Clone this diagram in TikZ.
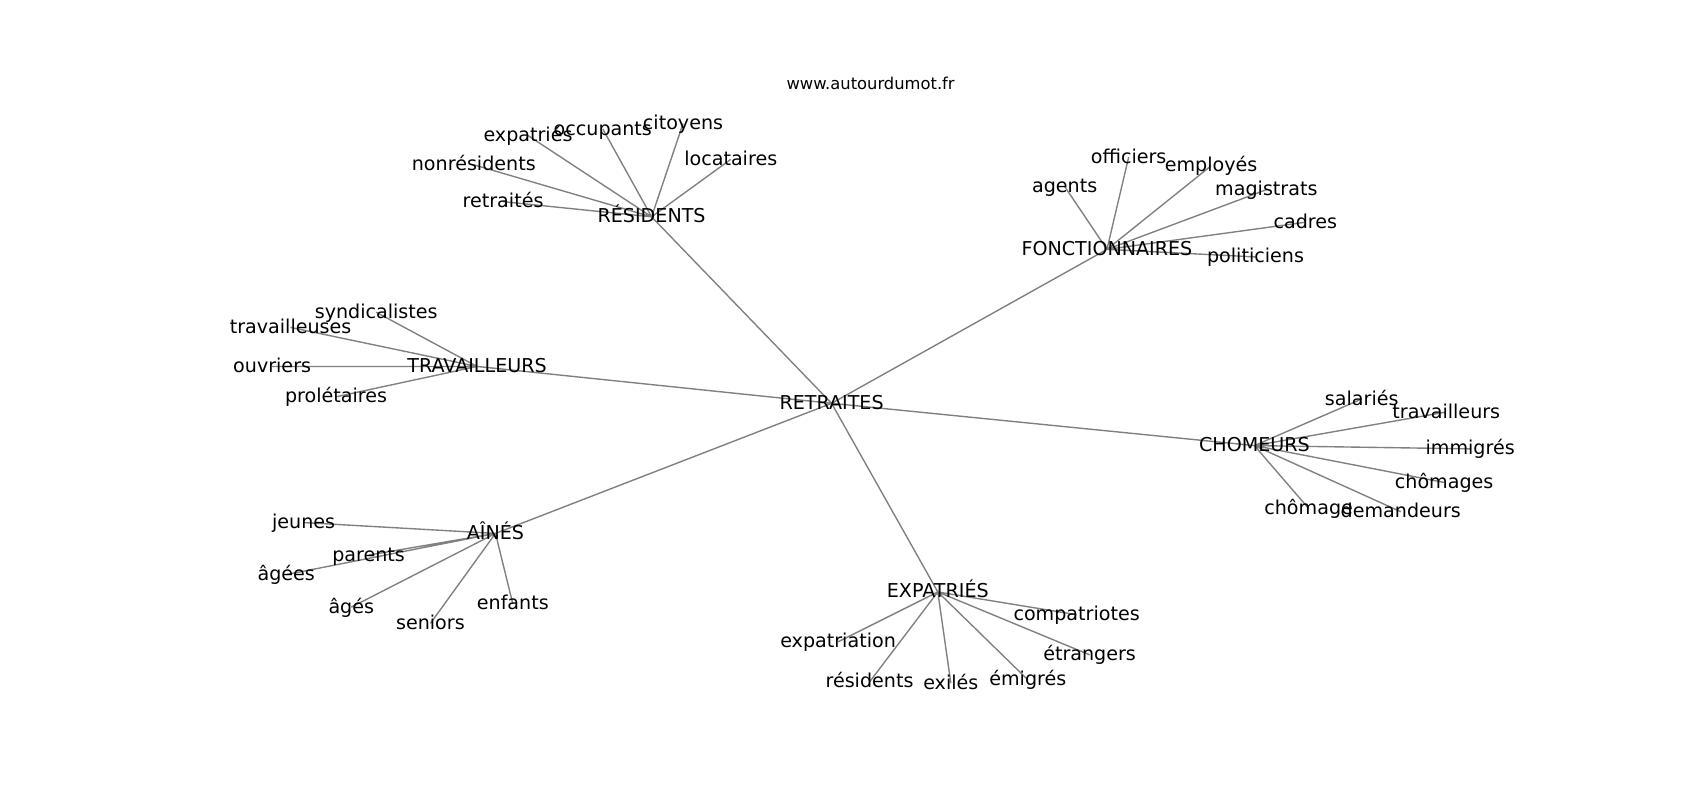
\documentclass[tikz,border=0pt]{standalone}
\usepackage{fontspec}
\setmainfont{DejaVu Sans}
\usetikzlibrary{backgrounds}
\tikzset{
  word/.style={inner sep=0pt, text height=0.95em, text depth=0.08em,
    font=\fontsize{13.8}{16}\selectfont},
  link/.style={black!50, line width=1pt}
}

\begin{document}
\begin{tikzpicture}[x=0.01084in, y=-0.01084in]
    \useasboundingbox (0,0) rectangle (1568,738);
    \node[inner sep=0pt, font=\fontsize{11.8}{14}\selectfont] (T) at (803,77) {www.autourdumot.fr};
    % hubs
    \node[word] (A) at (767,372) {RETRAITES};
    \node[word] (B) at (601,200) {RÉSIDENTS};
    \node[word] (C) at (1021,230) {FONCTIONNAIRES};
    \node[word] (D) at (1157,411) {CHOMEURS};
    \node[word] (E) at (865,546) {EXPATRIÉS};
    \node[word] (F) at (457,492) {AÎNÉS};
    \node[word] (G) at (440,338) {TRAVAILLEURS};
    % leaves
    \node[word] (B1) at (487,125) {expatriés};
    \node[word] (B2) at (556,119) {occupants};
    \node[word] (B3) at (630,114) {citoyens};
    \node[word] (B4) at (674,147) {locataires};
    \node[word] (B5) at (437,152) {nonrésidents};
    \node[word] (B6) at (464,186) {retraités};
    \node[word] (C1) at (982,172) {agents};
    \node[word] (C2) at (1041,145) {officiers};
    \node[word] (C3) at (1117,153) {employés};
    \node[word] (C4) at (1168,175) {magistrats};
    \node[word] (C5) at (1204,205) {cadres};
    \node[word] (C6) at (1158,237) {politiciens};
    \node[word] (D1) at (1256,368) {salariés};
    \node[word] (D2) at (1334,380) {travailleurs};
    \node[word] (D3) at (1356,414) {immigrés};
    \node[word] (D4) at (1332,445) {chômages};
    \node[word] (D5) at (1292,472) {demandeurs};
    \node[word] (D6) at (1207,469) {chômage};
    \node[word] (E1) at (993,567) {compatriotes};
    \node[word] (E2) at (1005,604) {étrangers};
    \node[word] (E3) at (948,627) {émigrés};
    \node[word] (E4) at (877,630) {exilés};
    \node[word] (E5) at (802,629) {résidents};
    \node[word] (E6) at (773,592) {expatriation};
    \node[word] (F1) at (280,482) {jeunes};
    \node[word] (F2) at (340,512) {parents};
    \node[word] (F3) at (264,530) {âgées};
    \node[word] (F4) at (324,560) {âgés};
    \node[word] (F5) at (397,575) {seniors};
    \node[word] (F6) at (473,557) {enfants};
    \node[word] (G1) at (347,288) {syndicalistes};
    \node[word] (G2) at (268,302) {travailleuses};
    \node[word] (G3) at (251,338) {ouvriers};
    \node[word] (G4) at (310,366) {prolétaires};
    \begin{scope}[on background layer]
    \draw[link] (A.center) -- (B.center) (A.center) -- (C.center) (A.center) -- (D.center)
                (A.center) -- (E.center) (A.center) -- (F.center) (A.center) -- (G.center);
    \draw[link] (B.center) -- (B1.center) (B.center) -- (B2.center) (B.center) -- (B3.center)
                (B.center) -- (B4.center) (B.center) -- (B5.center) (B.center) -- (B6.center);
    \draw[link] (C.center) -- (C1.center) (C.center) -- (C2.center) (C.center) -- (C3.center)
                (C.center) -- (C4.center) (C.center) -- (C5.center) (C.center) -- (C6.center);
    \draw[link] (D.center) -- (D1.center) (D.center) -- (D2.center) (D.center) -- (D3.center)
                (D.center) -- (D4.center) (D.center) -- (D5.center) (D.center) -- (D6.center);
    \draw[link] (E.center) -- (E1.center) (E.center) -- (E2.center) (E.center) -- (E3.center)
                (E.center) -- (E4.center) (E.center) -- (E5.center) (E.center) -- (E6.center);
    \draw[link] (F.center) -- (F1.center) (F.center) -- (F2.center) (F.center) -- (F3.center)
                (F.center) -- (F4.center) (F.center) -- (F5.center) (F.center) -- (F6.center);
    \draw[link] (G.center) -- (G1.center) (G.center) -- (G2.center) (G.center) -- (G3.center)
                (G.center) -- (G4.center);
    \end{scope}
\end{tikzpicture}
\end{document}
